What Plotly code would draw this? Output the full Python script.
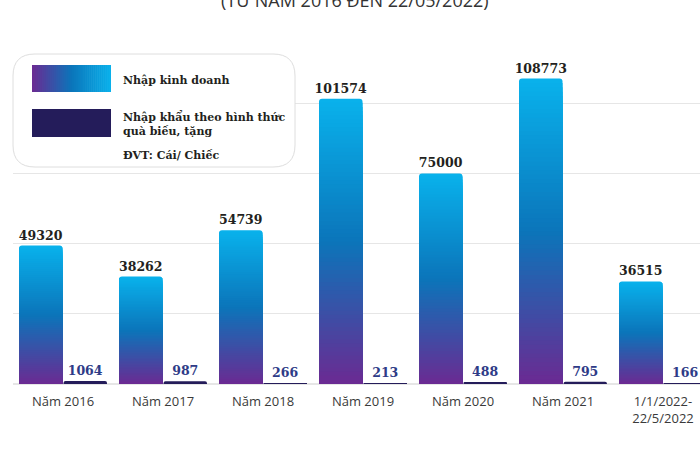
import plotly.graph_objects as go

# ---------------- data ----------------
categories = ["Năm 2016", "Năm 2017", "Năm 2018", "Năm 2019", "Năm 2020", "Năm 2021", "1/1/2022-<br>22/5/2022"]
kinh_doanh = [49320, 38262, 54739, 101574, 75000, 108773, 36515]
qua_bieu = [1064, 987, 266, 213, 488, 795, 166]
series_names = ["Nhập kinh doanh", "Nhập khẩu theo hình thức<br>quà biếu, tặng"]
unit_label = "ĐVT: Cái/ Chiếc"
title_text = "(TỪ NĂM 2016 ĐẾN 22/05/2022)"

# ---------------- style ----------------
W, H = 700, 450
ML, MR, MT, MB = 13, 0, 33, 66
PW, PH = W - ML - MR, H - MT - MB
grad_stops = [(0.0, (0x6b, 0x2a, 0x92)), (0.5, (0x0b, 0x75, 0xba)), (1.0, (0x09, 0xb2, 0xec))]
navy = "#241c5a"
N = 70


def grad_color(t):
    for (t0, c0), (t1, c1) in zip(grad_stops[:-1], grad_stops[1:]):
        if t0 <= t <= t1:
            f = (t - t0) / (t1 - t0)
            c = [round(a + (b - a) * f) for a, b in zip(c0, c1)]
            return "rgb(%d,%d,%d)" % tuple(c)
    return "rgb(%d,%d,%d)" % grad_stops[-1][1]


xs = list(range(len(categories)))
fig = go.Figure()

label_font = dict(family="DejaVu Serif", size=12.5, color="#231f20", weight="bold")

# gradient bars: nested bars from tallest (top colour) to shortest (bottom colour)
for k in range(N):
    frac = (N - k) / N
    tmid = (N - k - 0.5) / N
    fig.add_trace(go.Bar(
        x=xs, y=[v * frac for v in kinh_doanh],
        offset=-0.44, width=0.435,
        marker=dict(color=grad_color(tmid), line=dict(width=0),
                    cornerradius=3 if k == 0 else 0),
        text=[str(v) for v in kinh_doanh] if k == 0 else None,
        textposition="outside" if k == 0 else "none",
        textfont=label_font, constraintext="none",
        hoverinfo="skip", showlegend=False,
    ))

fig.add_trace(go.Bar(
    x=xs, y=qua_bieu, offset=0.005, width=0.435,
    marker=dict(color=navy, line=dict(width=0), cornerradius=3),
    text=[str(v) for v in qua_bieu], textposition="outside", constraintext="none",
    textfont=dict(family="DejaVu Serif", size=12.5, color="#2e3b87", weight="bold"),
    showlegend=False, name=series_names[1],
))


# ---------------- custom legend ----------------
def px(xp):
    return (xp - ML) / PW


def py(yp):
    return (MT + PH - yp) / PH


shapes = []
# rounded box
x0, x1, y0, y1, r = 13, 295, 54, 167, 22
rx, ry = r / PW, r / PH
X0, X1, Y0, Y1 = px(x0), px(x1), py(y1), py(y0)
path = (f"M {X0+rx},{Y1} L {X1-rx},{Y1} Q {X1},{Y1} {X1},{Y1-ry} "
        f"L {X1},{Y0+ry} Q {X1},{Y0} {X1-rx},{Y0} L {X0+rx},{Y0} "
        f"Q {X0},{Y0} {X0},{Y0+ry} L {X0},{Y1-ry} Q {X0},{Y1} {X0+rx},{Y1} Z")
shapes.append(dict(type="path", path=path, xref="paper", yref="paper",
                   fillcolor="white", line=dict(color="#dedede", width=1), layer="above"))
# gradient swatch
sx0, sx1, sy0, sy1 = 32, 111, 65, 92
M = 40
for i in range(M):
    a = sx0 + (sx1 - sx0) * i / M
    b = sx0 + (sx1 - sx0) * (i + 1) / M + 0.6
    shapes.append(dict(type="rect", xref="paper", yref="paper",
                       x0=px(a), x1=px(min(b, sx1)), y0=py(sy1), y1=py(sy0),
                       fillcolor=grad_color((i + 0.5) / M), line=dict(width=0), layer="above"))
# navy swatch
shapes.append(dict(type="rect", xref="paper", yref="paper",
                   x0=px(32), x1=px(111), y0=py(137), y1=py(109),
                   fillcolor=navy, line=dict(width=0), layer="above"))

leg_font = dict(family="DejaVu Serif", size=11, color="#231f20", weight="bold")
annotations = [
    dict(text=series_names[0], x=px(121), y=py(80), xref="paper", yref="paper",
         xanchor="left", yanchor="middle", showarrow=False, font=leg_font, align="left"),
    dict(text=series_names[1], x=px(121), y=py(124), xref="paper", yref="paper",
         xanchor="left", yanchor="middle", showarrow=False, font=leg_font, align="left"),
    dict(text=unit_label, x=px(121), y=py(155), xref="paper", yref="paper",
         xanchor="left", yanchor="middle", showarrow=False, font=leg_font, align="left"),
    dict(text=title_text, x=px(355), y=py(14), xref="paper", yref="paper",
         xanchor="center", yanchor="bottom", showarrow=False,
         font=dict(family="Open Sans", size=18, color="#333333")),
]

fig.update_layout(
    width=W, height=H,
    margin=dict(l=ML, r=MR, t=MT, b=MB, pad=0),
    barmode="overlay",
    plot_bgcolor="white", paper_bgcolor="white",
    shapes=shapes, annotations=annotations,
    showlegend=False,
    uniformtext=dict(mode=False),
)
fig.update_xaxes(
    range=[-0.5, -0.5 + PW / 100], tickmode="array", tickvals=xs, ticktext=categories,
    showgrid=False, showline=False, zeroline=False, ticks="",
    tickfont=dict(family="Open Sans", size=13, color="#3a3a3a"), ticklabelstandoff=8,
)
fig.update_yaxes(
    range=[0, 125000], dtick=25000, showticklabels=False, showgrid=True,
    gridcolor="#e6e6e6", gridwidth=1, zeroline=True, zerolinecolor="#e6e6e6", showline=False,
)
for tr in fig.data:
    tr.cliponaxis = False if tr.text is not None else True

fig.write_html("out.html", config={"displayModeBar": False},
               post_script="document.body.style.margin='0px';document.body.style.overflow='hidden';")
